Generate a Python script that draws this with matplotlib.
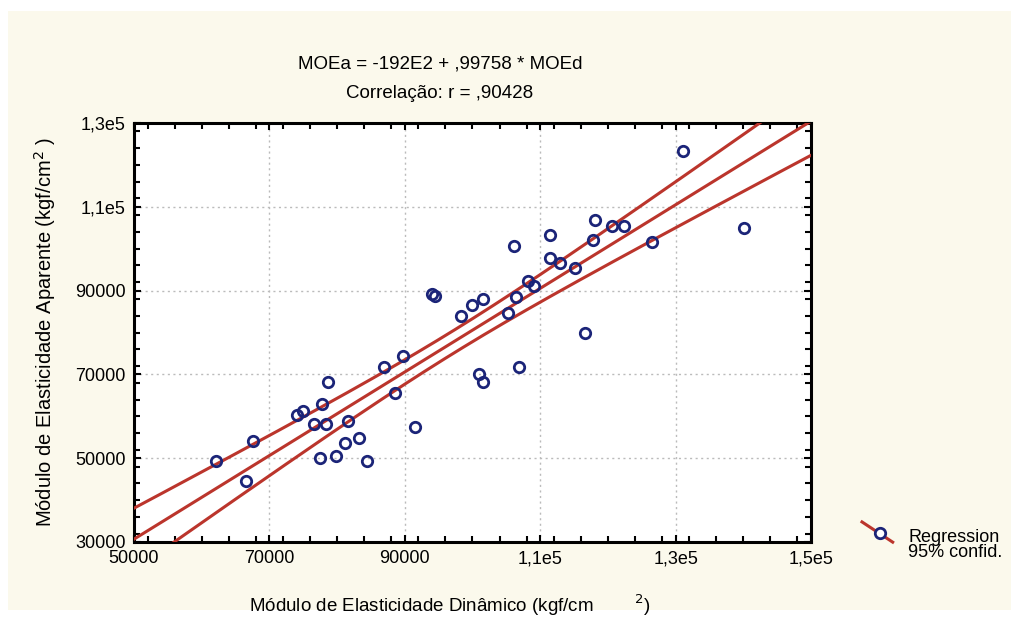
import numpy as np
import matplotlib
matplotlib.use("Agg")
import matplotlib.pyplot as plt
from matplotlib.lines import Line2D
from matplotlib.legend_handler import HandlerBase
from matplotlib.patches import Rectangle
from matplotlib.ticker import MultipleLocator, FixedLocator

plt.rcParams['font.family'] = ['Liberation Sans', 'DejaVu Sans']

# Data
moe_d = [62100, 66550, 67580, 74080, 74960, 76590, 77770, 78660, 78360, 77470,
         79840, 81170, 81610, 83230, 84420, 86930, 88550, 89730, 91510, 94020,
         94460, 98300, 99920, 101550, 100960, 101550, 105240, 106130, 106430, 106870,
         108200, 109080, 111450, 111450, 112920, 115140, 116620, 117800, 118100, 120610,
         122380, 126510, 131090, 140100]
moe_a = [49300, 44540, 54080, 60270, 61230, 58130, 62900, 68140, 58130, 50020,
         50500, 53600, 58840, 54790, 49300, 71720, 65520, 74340, 57410, 89120,
         88640, 83880, 86500, 87930, 70050, 68140, 84590, 100560, 88400, 71720,
         92220, 91030, 103180, 97700, 96510, 95320, 79820, 101990, 106760, 105330,
         105330, 101510, 123200, 104850]

intercept = -19200.0
slope = 0.99758
t_crit = 2.018  # t(0.975, df=42)

title_lines = ["MOEa = -192E2 + ,99758 * MOEd", "Correlação: r = ,90428"]
x_ticks = [50000, 70000, 90000, 110000, 130000, 150000]
x_labels = ["50000", "70000", "90000", "1,1e5", "1,3e5", "1,5e5"]
y_ticks = [30000, 50000, 70000, 90000, 110000, 130000]
y_labels = ["30000", "50000", "70000", "90000", "1,1e5", "1,3e5"]
legend_labels = ["Regression", "95% confid."]

RED = "#BB352C"
NAVY = "#1B2478"
BG = "#FBF9EC"

fig = plt.figure(figsize=(10.19, 6.18), dpi=100, facecolor="white")
fig.patches.append(Rectangle((8/1019, 8/618), 1003/1019, 599/618, transform=fig.transFigure,
                             facecolor=BG, edgecolor="none", zorder=-10))

ax = fig.add_axes([134/1019, 76/618, 677/1019, 419/618])
ax.set_facecolor("white")

x = np.array(moe_d, dtype=float)
y = np.array(moe_a, dtype=float)
n = len(x)
resid = y - (intercept + slope * x)
s = np.sqrt(np.sum(resid**2) / (n - 2))
xbar = x.mean()
sxx = np.sum((x - xbar)**2)

xs = np.linspace(40000, 160000, 400)
yfit = intercept + slope * xs
hw = t_crit * s * np.sqrt(1.0/n + (xs - xbar)**2 / sxx)

ax.plot(xs, yfit, color=RED, lw=2.2, zorder=3)
ax.plot(xs, yfit + hw, color=RED, lw=2.2, zorder=3)
ax.plot(xs, yfit - hw, color=RED, lw=2.2, zorder=3)
ax.plot(x, y, linestyle="none", marker="o", ms=7.5, mfc="none", mec=NAVY, mew=2.0, zorder=4)

ax.set_xlim(50000, 150000)
ax.set_ylim(30000, 130000)
ax.xaxis.set_major_locator(FixedLocator(x_ticks))
ax.yaxis.set_major_locator(FixedLocator(y_ticks))
ax.set_xticklabels(x_labels)
ax.set_yticklabels(y_labels)
ax.xaxis.set_minor_locator(MultipleLocator(4000))
ax.yaxis.set_minor_locator(MultipleLocator(4000))
ax.tick_params(which="both", direction="in", top=True, right=True, color="black",
               width=1.5, labelsize=13)
ax.tick_params(which="major", length=5, pad=6)
ax.tick_params(which="minor", length=4)
for sp in ax.spines.values():
    sp.set_linewidth(2.2)
    sp.set_color("black")
ax.grid(True, which="major", color="#BBBBBB", linestyle=(0, (1.5, 2.5)), lw=1.0, zorder=0)

ax.set_xlabel("Módulo de Elasticidade Dinâmico (kgf/cm        $^{2}$)", fontsize=13.5, labelpad=18)
ax.xaxis.label.set_x(0.467)
ax.set_ylabel("Módulo de Elasticidade Aparente (kgf/cm$^{2}$ )", fontsize=14.5, labelpad=12)

fig.text(440/1019, 1 - 64/618, title_lines[0], ha="center", va="center", fontsize=13.5)
fig.text(440/1019, 1 - 93/618, title_lines[1], ha="center", va="center", fontsize=13.5)


class DiagHandler(HandlerBase):
    def create_artists(self, legend, orig_handle, xdescent, ydescent, width, height, fontsize, trans):
        x0, x1 = -xdescent, -xdescent + width
        y0, y1 = -ydescent + height * 2.34, -ydescent + height * 0.74
        ln = Line2D([x0, x1], [y0, y1], color=RED, lw=2.2, transform=trans)
        mk = Line2D([(x0 + x1) / 2 + width * 0.1], [(y0 + y1) / 2 - height * 0.1], marker="o",
                    ms=7.5, mfc="white", mec=NAVY, mew=2.0, linestyle="none", transform=trans)
        return [ln, mk]


handle = Line2D([], [], color=RED)
leg = fig.legend([handle], ["\n".join(legend_labels)], handler_map={Line2D: DiagHandler()},
                 loc="center left", bbox_to_anchor=(862/1019, 1 - 545/618), frameon=False,
                 fontsize=13, handlelength=1.7, handletextpad=0.85, labelspacing=0,
                 borderpad=0, borderaxespad=0)
for t in leg.get_texts():
    t.set_linespacing(0.9)

fig.savefig("out.png", dpi=100, facecolor=fig.get_facecolor())
